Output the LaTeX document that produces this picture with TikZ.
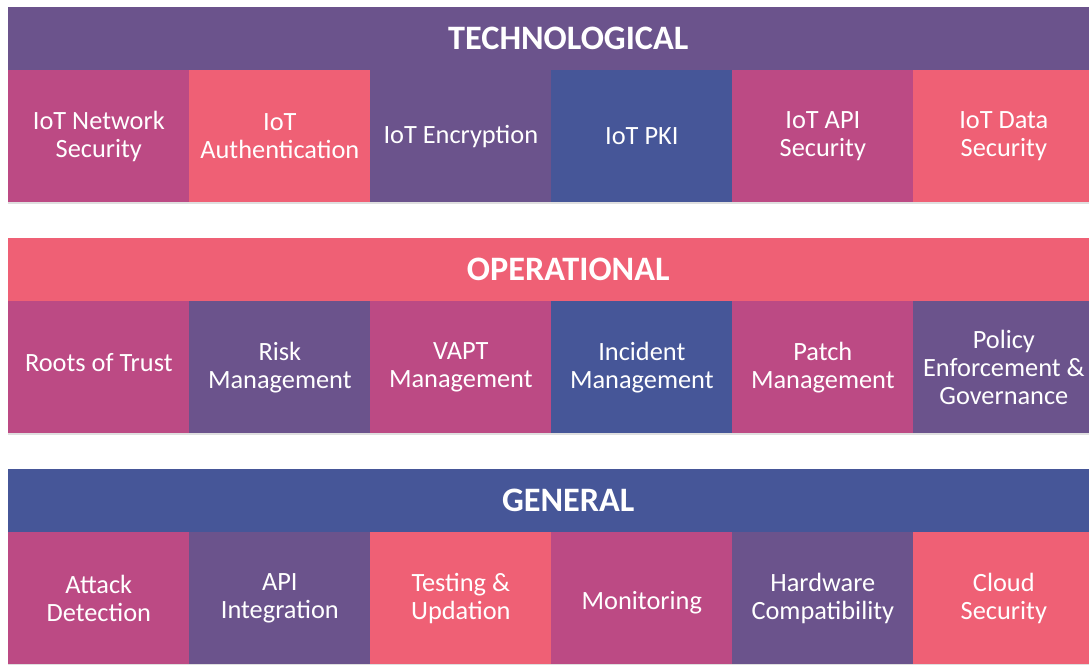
\documentclass[tikz,border=0pt]{standalone}
\usepackage{fontspec}
\setmainfont{Carlito}
\usepackage{tikz}
\usetikzlibrary{positioning,shadows}
\usepackage{xcolor}
\definecolor{tilepurple}{HTML}{6B538C}
\definecolor{tilemagenta}{HTML}{BC4A84}
\definecolor{tilecoral}{HTML}{EF6075}
\definecolor{tileblue}{HTML}{465698}
\tikzset{
  band/.style={anchor=north west, minimum width=22.4cm, minimum height=1.26cm,
    inner sep=0pt, text=white, font=\bfseries\fontsize{19.5}{22}\selectfont},
  tile/.style={anchor=north west, minimum width=3.62cm, minimum height=2.64cm,
    inner sep=0pt, align=center, text=white, font=\fontsize{15}{16}\selectfont,
    drop shadow={shadow xshift=0pt, shadow yshift=-1.2pt, opacity=0.25}},
  mag/.style={tile, fill=tilemagenta},
  cor/.style={tile, fill=tilecoral},
  pur/.style={tile, fill=tilepurple},
  blu/.style={tile, fill=tileblue},
}
\begin{document}
\begin{tikzpicture}[x=0.02cm, y=-0.02cm]
    \useasboundingbox[fill=white] (0,0) rectangle (1089,664);
    % technological layer
    \node[band, fill=tilepurple] (tech) at (8,7) {TECHNOLOGICAL};
    \node[mag] (netsec) at (8,70) {IoT Network\\Security};
    \node[cor] (auth) at (189,70) {IoT\\Authentication};
    \node[pur] (encr) at (370,70) {IoT Encryption};
    \node[blu] (pki) at (551,70) {IoT PKI};
    \node[mag] (apisec) at (732,70) {IoT API\\Security};
    \node[cor] (datasec) at (913,70) {IoT Data\\Security};
    % operational layer
    \node[band, fill=tilecoral] (oper) at (8,238) {OPERATIONAL};
    \node[mag, text depth=1.2ex] (roots) at (8,301) {Roots of Trust};
    \node[pur] (risk) at (189,301) {Risk\\Management};
    \node[mag] (vapt) at (370,301) {VAPT\\Management};
    \node[blu] (incident) at (551,301) {Incident\\Management};
    \node[mag] (patch) at (732,301) {Patch\\Management};
    \node[pur] (policy) at (913,301) {Policy\\Enforcement \&\\Governance};
    % general layer
    \node[band, fill=tileblue] (gen) at (8,469) {GENERAL};
    \node[mag] (attack) at (8,532) {Attack\\Detection};
    \node[pur] (apiint) at (189,532) {API\\Integration};
    \node[cor] (testing) at (370,532) {Testing \&\\Updation};
    \node[mag, text height=3.2ex] (monitor) at (551,532) {Monitoring};
    \node[pur] (hardware) at (732,532) {Hardware\\Compatibility};
    \node[cor] (cloud) at (913,532) {Cloud\\Security};
\end{tikzpicture}
\end{document}
